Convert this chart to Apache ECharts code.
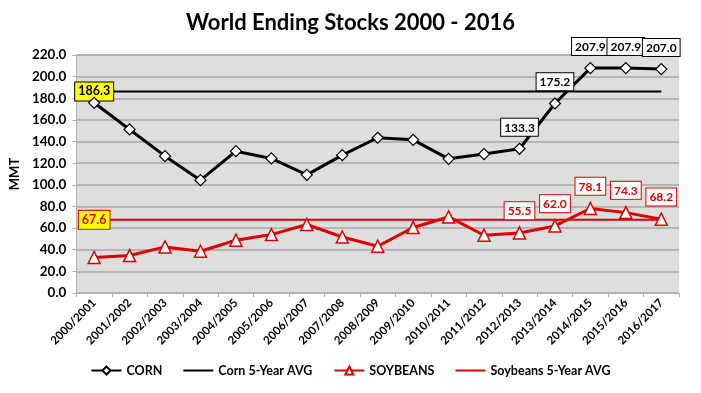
<!DOCTYPE html>
<html>
<head>
<meta charset="utf-8">
<script src="https://cdn.jsdelivr.net/npm/echarts@6/dist/echarts.min.js"></script>
<style>html,body{margin:0;padding:0;background:#fff}#c{width:701px;height:393px}</style>
</head>
<body>
<div id="c"></div>
<script>
var categories = ['2000/2001','2001/2002','2002/2003','2003/2004','2004/2005','2005/2006','2006/2007','2007/2008','2008/2009','2009/2010','2010/2011','2011/2012','2012/2013','2013/2014','2014/2015','2015/2016','2016/2017'];
var corn = [175.8,151.2,126.5,104.3,131.1,124.4,109.2,127.4,143.5,141.6,124.0,128.4,133.3,175.2,207.9,207.9,207.0];
var soybeans = [32.8,34.6,42.6,38.6,48.8,54.0,63.3,51.8,43.2,60.5,70.3,53.4,55.5,62.0,78.1,74.3,68.2];
var cornAvgValue = 186.3;
var soyAvgValue = 67.6;
var labeledFrom = 12;

var FONT = 'Lato';
var cornAvg = categories.map(function(){return cornAvgValue;});
var soyAvg = categories.map(function(){return soyAvgValue;});
var LINE_ICON = 'path://M0,9L30,9L30,11L0,11Z';

function labeled(arr, color) {
  return arr.map(function(v, i){
    if (i < labeledFrom) return v;
    return {value: v, label: {show: true, position: 'top', distance: 7,
      formatter: function(p){return p.value.toFixed(1);},
      color: color, fontWeight: 'bold', fontSize: 12, fontFamily: FONT,
      backgroundColor: '#fff', borderColor: color, borderWidth: 1, padding: [3,3,2,3]}};
  });
}
function avgData(arr, color) {
  return arr.map(function(v, i){
    if (i !== 0) return v;
    return {value: v, label: {show: true, position: 'inside',
      formatter: function(p){return p.value.toFixed(1);},
      color: color, fontWeight: 'bold', fontSize: 12.5, fontFamily: FONT,
      backgroundColor: '#ffff00', borderColor: color, borderWidth: 1, padding: [3,3,2,3]}};
  });
}

var chart = echarts.init(document.getElementById('c'));
chart.setOption({
  animation: false,
  backgroundColor: '#fff',
  title: {text: 'World Ending Stocks 2000 - 2016', left: 'center', top: 7,
    textStyle: {fontFamily: FONT, fontWeight: 'bold', fontSize: 22, color: '#000'}},
  grid: {left: 72, right: 22, top: 55, bottom: 100, backgroundColor: '#dedede', show: true, borderWidth: 0},
  legend: {bottom: 11, left: 'center', itemGap: 21, itemWidth: 30, itemHeight: 10,
    textStyle: {fontFamily: FONT, fontWeight: 'bold', fontSize: 12.5, color: '#000'},
    data: [
      {name: 'CORN'},
      {name: 'Corn 5-Year AVG', icon: LINE_ICON},
      {name: 'SOYBEANS'},
      {name: 'Soybeans 5-Year AVG', icon: LINE_ICON}
    ]},
  xAxis: {type: 'category', data: categories, boundaryGap: true,
    axisLine: {lineStyle: {color: '#b0b0b0', width: 1}},
    axisTick: {show: true, lineStyle: {color: '#b0b0b0'}, length: 4},
    axisLabel: {rotate: 45, interval: 0, fontFamily: FONT, fontWeight: 'bold', fontSize: 11.5, color: '#000', margin: 8}},
  yAxis: {type: 'value', min: 0, max: 220, interval: 20,
    name: 'MMT', nameLocation: 'middle', nameGap: 48, nameRotate: 90,
    nameTextStyle: {fontFamily: FONT, fontWeight: 'bold', fontSize: 13, color: '#000'},
    axisLine: {show: true, lineStyle: {color: '#b0b0b0'}},
    axisTick: {show: true, lineStyle: {color: '#b0b0b0'}, length: 4},
    splitLine: {lineStyle: {color: '#b4b4b4', width: 2}},
    axisLabel: {formatter: function(v){return v.toFixed(1);}, fontFamily: FONT, fontWeight: 'bold', fontSize: 13.5, color: '#000', margin: 10}},
  series: [
    {name: 'Corn 5-Year AVG', type: 'line', data: avgData(cornAvg, '#000'), symbol: 'circle', symbolSize: 0.01, showSymbol: true,
      lineStyle: {color: '#000', width: 2}, itemStyle: {color: '#000'}, z: 2},
    {name: 'Soybeans 5-Year AVG', type: 'line', data: avgData(soyAvg, '#e00000'), symbol: 'circle', symbolSize: 0.01, showSymbol: true,
      lineStyle: {color: '#e00000', width: 2}, itemStyle: {color: '#e00000'}, z: 2},
    {name: 'CORN', type: 'line', data: labeled(corn, '#000'), symbol: 'diamond', symbolSize: 11,
      lineStyle: {color: '#000', width: 3}, itemStyle: {color: '#fff', borderColor: '#000', borderWidth: 1.2}, z: 3},
    {name: 'SOYBEANS', type: 'line', data: labeled(soybeans, '#e00000'), symbol: 'triangle', symbolSize: 12,
      lineStyle: {color: '#e00000', width: 3}, itemStyle: {color: '#fff', borderColor: '#e00000', borderWidth: 1.5}, z: 3}
  ]
});
</script>
</body>
</html>
